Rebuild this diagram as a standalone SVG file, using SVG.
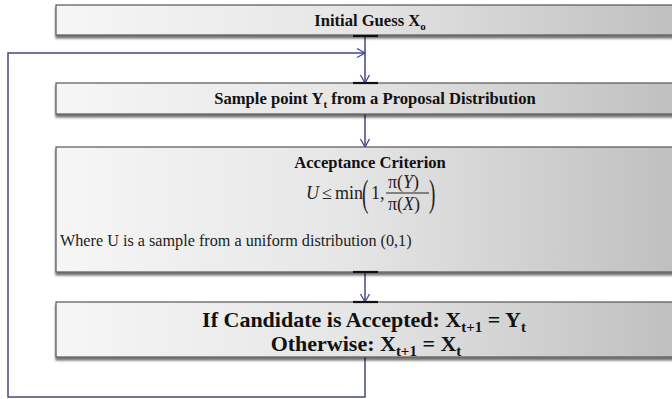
<svg xmlns="http://www.w3.org/2000/svg" width="672" height="399" viewBox="0 0 672 399">
<defs>
<linearGradient id="g" x1="0" y1="0" x2="1" y2="0">
<stop offset="0" stop-color="#f6f6f6"/>
<stop offset="0.45" stop-color="#e6e6e6"/>
<stop offset="1" stop-color="#bdbdbd"/>
</linearGradient>
<marker id="arr" markerWidth="12" markerHeight="12" refX="9" refY="6" orient="auto" markerUnits="userSpaceOnUse">
<path d="M1,1.5 L9,6 L1,10.5" fill="none" stroke="#45458c" stroke-width="1.3"/>
</marker>
<filter id="sh" x="-5%" y="-20%" width="110%" height="160%">
<feGaussianBlur in="SourceAlpha" stdDeviation="1.2"/>
<feOffset dx="0" dy="2.5" result="b"/>
<feComponentTransfer><feFuncA type="linear" slope="0.55"/></feComponentTransfer>
<feMerge><feMergeNode/><feMergeNode in="SourceGraphic"/></feMerge>
</filter>
</defs>
<style>
.box{fill:url(#g);stroke:#555;stroke-width:1.2;filter:url(#sh)}
.t{font-family:"Liberation Serif","DejaVu Serif",serif;font-weight:bold;font-size:16.6px;fill:#111;text-anchor:middle}
.big{font-size:22px}
.r{font-family:"Liberation Serif","DejaVu Serif",serif;font-size:16.2px;fill:#222}
.m{font-family:"Liberation Serif","DejaVu Serif",serif;font-size:18px;fill:#222}
.c{fill:none;stroke:#45458c;stroke-width:1.5}
.bar{stroke:#111;stroke-width:2.2}
</style>
<g id="connectors">
<line class="c" x1="365" y1="35" x2="365" y2="83" marker-end="url(#arr)"/>
<polyline class="c" points="365,357 365,397 8,397 8,53 365,53" marker-end="url(#arr)"/>
<line class="c" x1="365" y1="114" x2="365" y2="147" marker-end="url(#arr)"/>
<line class="c" x1="365" y1="272" x2="365" y2="302" marker-end="url(#arr)"/>
</g>
<g id="n1">
<rect class="box" x="56" y="5" width="640" height="30"/>
<text class="t" x="370" y="26">Initial Guess X<tspan font-size="11" dy="4">o</tspan></text>
</g>
<g id="n2">
<rect class="box" x="56" y="83" width="640" height="31"/>
<text class="t" x="375" y="104">Sample point Y<tspan font-size="11" dy="4">t</tspan><tspan dy="-4"> from a Proposal Distribution</tspan></text>
</g>
<g id="n3">
<rect class="box" x="56" y="147" width="640" height="125"/>
<text class="t" x="370" y="168">Acceptance Criterion</text>
<g class="m">
<text x="306" y="199" font-style="italic">U</text>
<text x="322" y="199">≤</text>
<text x="335" y="199">min</text>
<text x="0" y="0" font-size="24" transform="translate(362 206) scale(0.8 1.55)">(</text>
<text x="371" y="199">1,</text>
<text x="388" y="188">π(<tspan font-style="italic">Y</tspan>)</text>
<line x1="386" y1="193" x2="429" y2="193" stroke="#222" stroke-width="1"/>
<text x="388" y="210">π(<tspan font-style="italic">X</tspan>)</text>
<text x="0" y="0" font-size="24" transform="translate(429 206) scale(0.8 1.55)">)</text>
</g>
<text class="r" x="60" y="246">Where U is a sample from a uniform distribution (0,1)</text>
</g>
<g id="n4">
<rect class="box" x="56" y="302" width="640" height="55"/>
<text class="t big" x="364" y="327">If Candidate is Accepted: X<tspan font-size="15" dy="5">t+1</tspan><tspan dy="-5"> = Y</tspan><tspan font-size="15" dy="5">t</tspan></text>
<text class="t big" x="366" y="351">Otherwise: X<tspan font-size="15" dy="5">t+1</tspan><tspan dy="-5">  = X</tspan><tspan font-size="15" dy="5">t</tspan></text>
</g>
<g id="marks">
<line class="bar" x1="353" y1="36" x2="378" y2="36"/>
<line class="bar" x1="353" y1="83" x2="378" y2="83"/>
<line class="bar" x1="353" y1="272" x2="378" y2="272"/>
<line class="bar" x1="353" y1="302" x2="378" y2="302"/>
</g>
</svg>
